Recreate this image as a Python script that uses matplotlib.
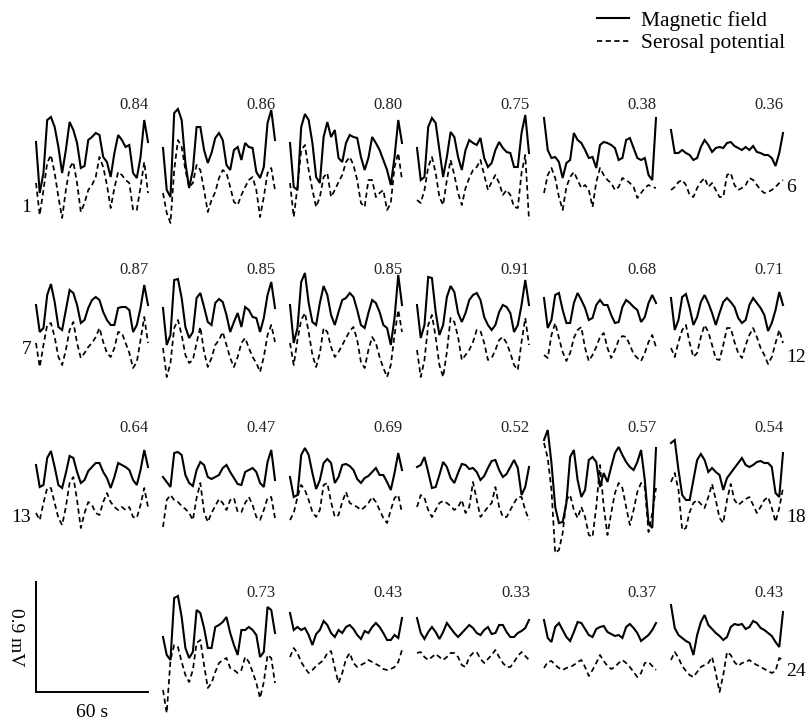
import numpy as np
import matplotlib
matplotlib.use("Agg")
import matplotlib.pyplot as plt
from matplotlib.lines import Line2D

plt.rcParams['font.family'] = ['Liberation Serif', 'DejaVu Serif']

mag_p1 = [93, 42, 62, 115, 118, 108, 88, 62, 85, 113, 105, 92, 67, 69, 95, 98, 102, 100, 78, 73, 58, 82, 100, 95, 88, 90, 62, 57, 78, 115, 93]
ser_p1 = [52, 20, 45, 72, 80, 62, 38, 17, 45, 67, 73, 52, 23, 32, 45, 50, 58, 78, 68, 50, 27, 47, 63, 60, 55, 52, 25, 25, 48, 73, 42]
mag_p2 = [87, 45, 38, 122, 126, 115, 72, 47, 65, 108, 108, 85, 72, 82, 97, 102, 95, 70, 65, 85, 88, 75, 92, 88, 87, 63, 57, 68, 112, 125, 95]
ser_p2 = [42, 22, 12, 65, 95, 88, 65, 48, 52, 70, 65, 45, 23, 35, 43, 57, 65, 62, 48, 33, 30, 40, 48, 55, 58, 45, 18, 38, 62, 67, 45]
mag_p3 = [92, 48, 45, 108, 121, 115, 92, 58, 52, 98, 113, 98, 105, 77, 73, 92, 100, 98, 97, 78, 65, 77, 98, 92, 85, 75, 65, 50, 78, 115, 92]
ser_p3 = [52, 18, 48, 85, 90, 65, 45, 28, 38, 58, 62, 38, 45, 53, 60, 73, 78, 70, 55, 32, 28, 55, 55, 38, 42, 45, 25, 32, 68, 82, 55]
mag_p4 = [87, 55, 58, 108, 117, 112, 85, 58, 78, 103, 98, 78, 65, 85, 95, 92, 90, 97, 77, 68, 72, 85, 93, 87, 83, 82, 68, 68, 102, 120, 82]
ser_p4 = [35, 32, 45, 68, 78, 62, 38, 30, 55, 75, 60, 42, 30, 47, 57, 65, 68, 75, 60, 45, 53, 60, 52, 40, 45, 40, 28, 27, 62, 80, 15]
mag_p5 = [117, 85, 77, 78, 73, 57, 72, 75, 102, 95, 92, 85, 77, 78, 67, 90, 93, 92, 90, 87, 75, 77, 95, 97, 87, 77, 75, 77, 60, 55, 117]
ser_p5 = [42, 60, 67, 57, 38, 25, 48, 58, 63, 55, 47, 50, 45, 28, 53, 67, 60, 55, 52, 45, 48, 57, 55, 52, 48, 37, 42, 47, 50, 48, 47]
mag_p6 = [105, 82, 82, 85, 82, 80, 75, 77, 88, 95, 90, 83, 87, 88, 87, 92, 93, 89, 87, 85, 88, 85, 89, 83, 82, 80, 80, 77, 69, 82, 102]
ser_p6 = [45, 48, 53, 55, 50, 40, 38, 47, 53, 57, 48, 52, 45, 38, 38, 60, 62, 50, 45, 47, 50, 57, 55, 50, 45, 42, 43, 45, 48, 52, 55]

mag_p7 = [85, 58, 62, 95, 106, 88, 63, 60, 80, 100, 97, 85, 67, 70, 82, 90, 93, 90, 78, 70, 65, 65, 82, 83, 83, 80, 58, 65, 82, 105, 85]
ser_p7 = [47, 23, 45, 65, 67, 53, 33, 25, 40, 60, 68, 47, 32, 37, 43, 47, 53, 62, 48, 37, 33, 42, 58, 57, 47, 37, 22, 28, 50, 73, 47]
mag_p8 = [82, 45, 55, 110, 111, 92, 63, 52, 58, 92, 97, 83, 68, 65, 87, 91, 88, 75, 58, 68, 77, 63, 83, 80, 73, 72, 58, 72, 95, 108, 82]
ser_p8 = [42, 13, 27, 62, 70, 55, 35, 27, 30, 47, 63, 38, 23, 32, 45, 50, 58, 45, 32, 23, 33, 47, 52, 42, 33, 27, 18, 33, 55, 65, 48]
mag_p9 = [85, 47, 62, 108, 117, 87, 68, 65, 87, 104, 95, 75, 65, 78, 90, 92, 97, 93, 80, 65, 62, 77, 90, 87, 78, 65, 62, 45, 72, 115, 85]
ser_p9 = [47, 25, 50, 70, 77, 58, 35, 23, 37, 62, 58, 43, 33, 38, 45, 52, 59, 63, 50, 28, 22, 40, 53, 47, 33, 22, 13, 25, 55, 80, 58]
mag_p10 = [85, 52, 65, 113, 112, 78, 55, 65, 93, 104, 98, 77, 68, 77, 90, 95, 97, 90, 73, 65, 60, 65, 78, 85, 83, 77, 58, 65, 85, 110, 85]
ser_p10 = [40, 13, 30, 65, 75, 53, 25, 13, 38, 72, 68, 53, 30, 35, 40, 48, 60, 59, 47, 30, 32, 40, 50, 53, 47, 37, 25, 20, 48, 72, 45]
mag_p11 = [92, 62, 70, 95, 97, 80, 67, 67, 87, 97, 90, 82, 70, 72, 85, 90, 85, 85, 75, 67, 68, 83, 90, 87, 83, 80, 68, 73, 87, 95, 87]
ser_p11 = [35, 32, 55, 67, 52, 38, 29, 37, 52, 60, 63, 42, 29, 35, 43, 53, 57, 42, 32, 40, 50, 54, 53, 45, 36, 32, 29, 37, 48, 55, 43]
mag_p12 = [92, 60, 70, 93, 96, 82, 65, 73, 88, 95, 87, 77, 65, 77, 88, 92, 88, 83, 72, 67, 70, 85, 92, 87, 82, 75, 59, 67, 80, 98, 85]
ser_p12 = [42, 33, 48, 60, 65, 47, 33, 37, 53, 65, 58, 45, 31, 30, 45, 62, 62, 48, 37, 32, 45, 55, 62, 53, 42, 35, 26, 33, 47, 60, 47]

mag_p13 = [105, 83, 85, 112, 119, 103, 85, 82, 97, 114, 112, 98, 87, 90, 99, 103, 107, 107, 98, 92, 82, 93, 107, 105, 103, 100, 90, 85, 100, 120, 103]
ser_p13 = [57, 50, 67, 82, 82, 67, 52, 45, 63, 87, 93, 70, 42, 57, 68, 65, 57, 55, 68, 77, 68, 63, 60, 63, 60, 63, 53, 52, 65, 82, 63]
mag_p14 = [93, 88, 83, 117, 118, 115, 95, 87, 84, 100, 108, 105, 93, 91, 93, 95, 102, 105, 98, 92, 86, 85, 98, 100, 102, 98, 87, 83, 108, 120, 90]
ser_p14 = [43, 70, 75, 70, 68, 64, 61, 57, 50, 72, 87, 58, 48, 57, 64, 71, 67, 60, 70, 72, 58, 58, 67, 73, 65, 53, 50, 60, 72, 73, 52]
mag_p15 = [93, 73, 75, 115, 122, 115, 97, 81, 90, 107, 111, 107, 87, 93, 105, 106, 104, 100, 91, 87, 92, 94, 98, 102, 95, 95, 88, 80, 97, 117, 100]
ser_p15 = [50, 57, 73, 85, 80, 70, 58, 53, 60, 85, 87, 68, 53, 55, 68, 78, 67, 65, 63, 60, 63, 67, 73, 68, 60, 52, 47, 60, 72, 75, 57]
mag_p16 = [103, 105, 113, 98, 82, 83, 95, 108, 103, 92, 87, 97, 106, 105, 101, 102, 98, 90, 94, 102, 109, 110, 100, 93, 96, 103, 110, 102, 75, 83, 103]
ser_p16 = [63, 75, 72, 60, 53, 60, 67, 69, 67, 64, 60, 63, 70, 57, 63, 88, 70, 53, 58, 63, 67, 83, 63, 53, 53, 60, 67, 73, 73, 60, 50]
mag_p17 = [130, 140, 107, 63, 47, 48, 67, 113, 120, 90, 73, 80, 110, 113, 108, 83, 97, 88, 103, 117, 123, 115, 108, 103, 100, 108, 120, 90, 47, 42, 122]
ser_p17 = [127, 112, 80, 17, 20, 37, 70, 75, 60, 52, 63, 53, 35, 33, 63, 105, 63, 35, 57, 77, 87, 82, 63, 45, 60, 78, 87, 83, 38, 57, 82]
mag_p18 = [127, 130, 100, 75, 70, 70, 90, 110, 116, 110, 98, 102, 98, 95, 80, 92, 97, 102, 107, 112, 105, 103, 105, 108, 109, 107, 107, 103, 77, 73, 117]
ser_p18 = [88, 97, 80, 40, 42, 58, 67, 70, 66, 62, 73, 86, 70, 52, 47, 70, 86, 70, 65, 68, 71, 73, 65, 57, 63, 70, 73, 62, 48, 62, 82]

mag_p20 = [83, 65, 60, 122, 124, 103, 72, 62, 68, 110, 107, 92, 72, 72, 93, 95, 98, 103, 87, 75, 65, 90, 90, 93, 90, 85, 63, 68, 113, 110, 87]
ser_p20 = [30, 7, 60, 75, 73, 58, 45, 38, 50, 77, 80, 55, 32, 37, 48, 57, 60, 62, 52, 50, 47, 50, 63, 58, 48, 37, 22, 38, 65, 62, 37]
mag_p21 = [107, 90, 93, 90, 92, 85, 75, 86, 90, 99, 95, 87, 83, 90, 87, 93, 95, 91, 85, 81, 89, 87, 93, 97, 93, 87, 80, 80, 85, 82, 102]
ser_p21 = [63, 72, 67, 58, 52, 47, 50, 54, 57, 60, 67, 69, 52, 37, 47, 61, 67, 57, 53, 55, 57, 60, 58, 56, 54, 51, 50, 51, 53, 58, 70]
mag_p22 = [102, 87, 81, 88, 93, 88, 81, 88, 97, 92, 87, 83, 87, 91, 95, 92, 87, 85, 90, 93, 86, 87, 95, 95, 88, 83, 83, 87, 89, 92, 100]
ser_p22 = [67, 68, 63, 60, 63, 66, 63, 60, 63, 67, 67, 63, 55, 53, 63, 67, 68, 61, 57, 61, 65, 70, 63, 57, 53, 53, 58, 64, 68, 64, 60]
mag_p23 = [100, 82, 78, 93, 97, 90, 83, 79, 88, 98, 97, 91, 85, 83, 91, 93, 94, 88, 86, 84, 85, 82, 93, 96, 92, 87, 79, 82, 85, 90, 97]
ser_p23 = [52, 58, 59, 55, 52, 50, 52, 53, 55, 58, 60, 53, 44, 50, 57, 65, 59, 54, 51, 53, 57, 60, 57, 53, 48, 43, 47, 57, 58, 54, 50]
mag_p24 = [115, 92, 85, 82, 79, 77, 65, 85, 98, 105, 95, 91, 87, 84, 80, 83, 93, 96, 95, 96, 91, 93, 99, 97, 92, 90, 87, 84, 78, 73, 108]
ser_p24 = [60, 68, 62, 54, 49, 45, 43, 48, 53, 55, 57, 63, 47, 28, 45, 68, 65, 58, 54, 57, 58, 60, 57, 55, 53, 51, 49, 47, 49, 62, 60]

# correlation coefficient per channel (None = slot used by the scale bar)
corr = [0.84, 0.86, 0.80, 0.75, 0.38, 0.36,
        0.87, 0.85, 0.85, 0.91, 0.68, 0.71,
        0.64, 0.47, 0.69, 0.52, 0.57, 0.54,
        None, 0.73, 0.43, 0.33, 0.37, 0.43]
mag = [mag_p1, mag_p2, mag_p3, mag_p4, mag_p5, mag_p6,
       mag_p7, mag_p8, mag_p9, mag_p10, mag_p11, mag_p12,
       mag_p13, mag_p14, mag_p15, mag_p16, mag_p17, mag_p18,
       None, mag_p20, mag_p21, mag_p22, mag_p23, mag_p24]
ser = [ser_p1, ser_p2, ser_p3, ser_p4, ser_p5, ser_p6,
       ser_p7, ser_p8, ser_p9, ser_p10, ser_p11, ser_p12,
       ser_p13, ser_p14, ser_p15, ser_p16, ser_p17, ser_p18,
       None, ser_p20, ser_p21, ser_p22, ser_p23, ser_p24]
left_labels = {0: '1', 1: '7', 2: '13'}
right_labels = {0: '6', 1: '12', 2: '18', 3: '24'}

MV_PER_UNIT = 0.9 / 110
t = np.linspace(0, 60, 31)

W, H = 811, 723
fig = plt.figure(figsize=(W / 100, H / 100), dpi=100)

col_left = [36, 163, 290, 417, 544, 671]
panel_w = 112
row_bottom = [235, 390, 570, 720]
row_text = [105, 270, 428, 593]
left_lab_y = [27, 40, 53]
right_lab_y = [47, 32, 52, 48]

lw_mag = 1.5
lw_ser = 1.25
dash = (3.0, 2.0)

for r in range(4):
    top = row_text[r] - 14
    bot = row_bottom[r]
    for c in range(6):
        k = r * 6 + c
        ax = fig.add_axes([col_left[c] / W, 1 - bot / H, panel_w / W, (bot - top) / H])
        ax.set_xlim(0, 60)
        ax.set_ylim(0, (bot - top) * MV_PER_UNIT)
        ax.axis('off')
        if mag[k] is None:
            # scale bar
            base = 0.23
            ax.plot([0, 0, 60], [base + 0.9, base, base], color='black', lw=1.4,
                    clip_on=False, solid_joinstyle='miter')
            ax.text(-11, base + 0.45, '0.9 mV', rotation=-90, ha='center', va='center',
                    fontsize=14)
            ax.text(30, 0.06, '60 s', ha='center', va='center', fontsize=14)
            continue
        ax.plot(t, np.array(mag[k]) * MV_PER_UNIT, color='black', lw=lw_mag,
                solid_joinstyle='miter', clip_on=False)
        ax.plot(t, np.array(ser[k]) * MV_PER_UNIT, color='black', lw=lw_ser,
                linestyle=(0, dash), clip_on=False)
        ax.text(60.5, (bot - row_text[r]) * MV_PER_UNIT, f'{corr[k]:.2f}', ha='right',
                va='center', fontsize=12, color='#222222')
        if c == 0 and r in left_labels:
            ax.text(-2.5, left_lab_y[r] * MV_PER_UNIT, left_labels[r], ha='right',
                    va='center', fontsize=14)
        if c == 5:
            ax.text(61.5, right_lab_y[r] * MV_PER_UNIT, right_labels[r], ha='left',
                    va='center', fontsize=14)

handles = [Line2D([], [], color='black', lw=1.5),
           Line2D([], [], color='black', lw=1.25, linestyle=(0, dash))]
fig.legend(handles, ['Magnetic field', 'Serosal potential'], loc='upper right',
           bbox_to_anchor=(794 / W, 1 - 2 / H), frameon=False, fontsize=15.5,
           handlelength=1.5, handletextpad=0.55, labelspacing=0.12, borderaxespad=0)

fig.savefig('out.png', dpi=100)
